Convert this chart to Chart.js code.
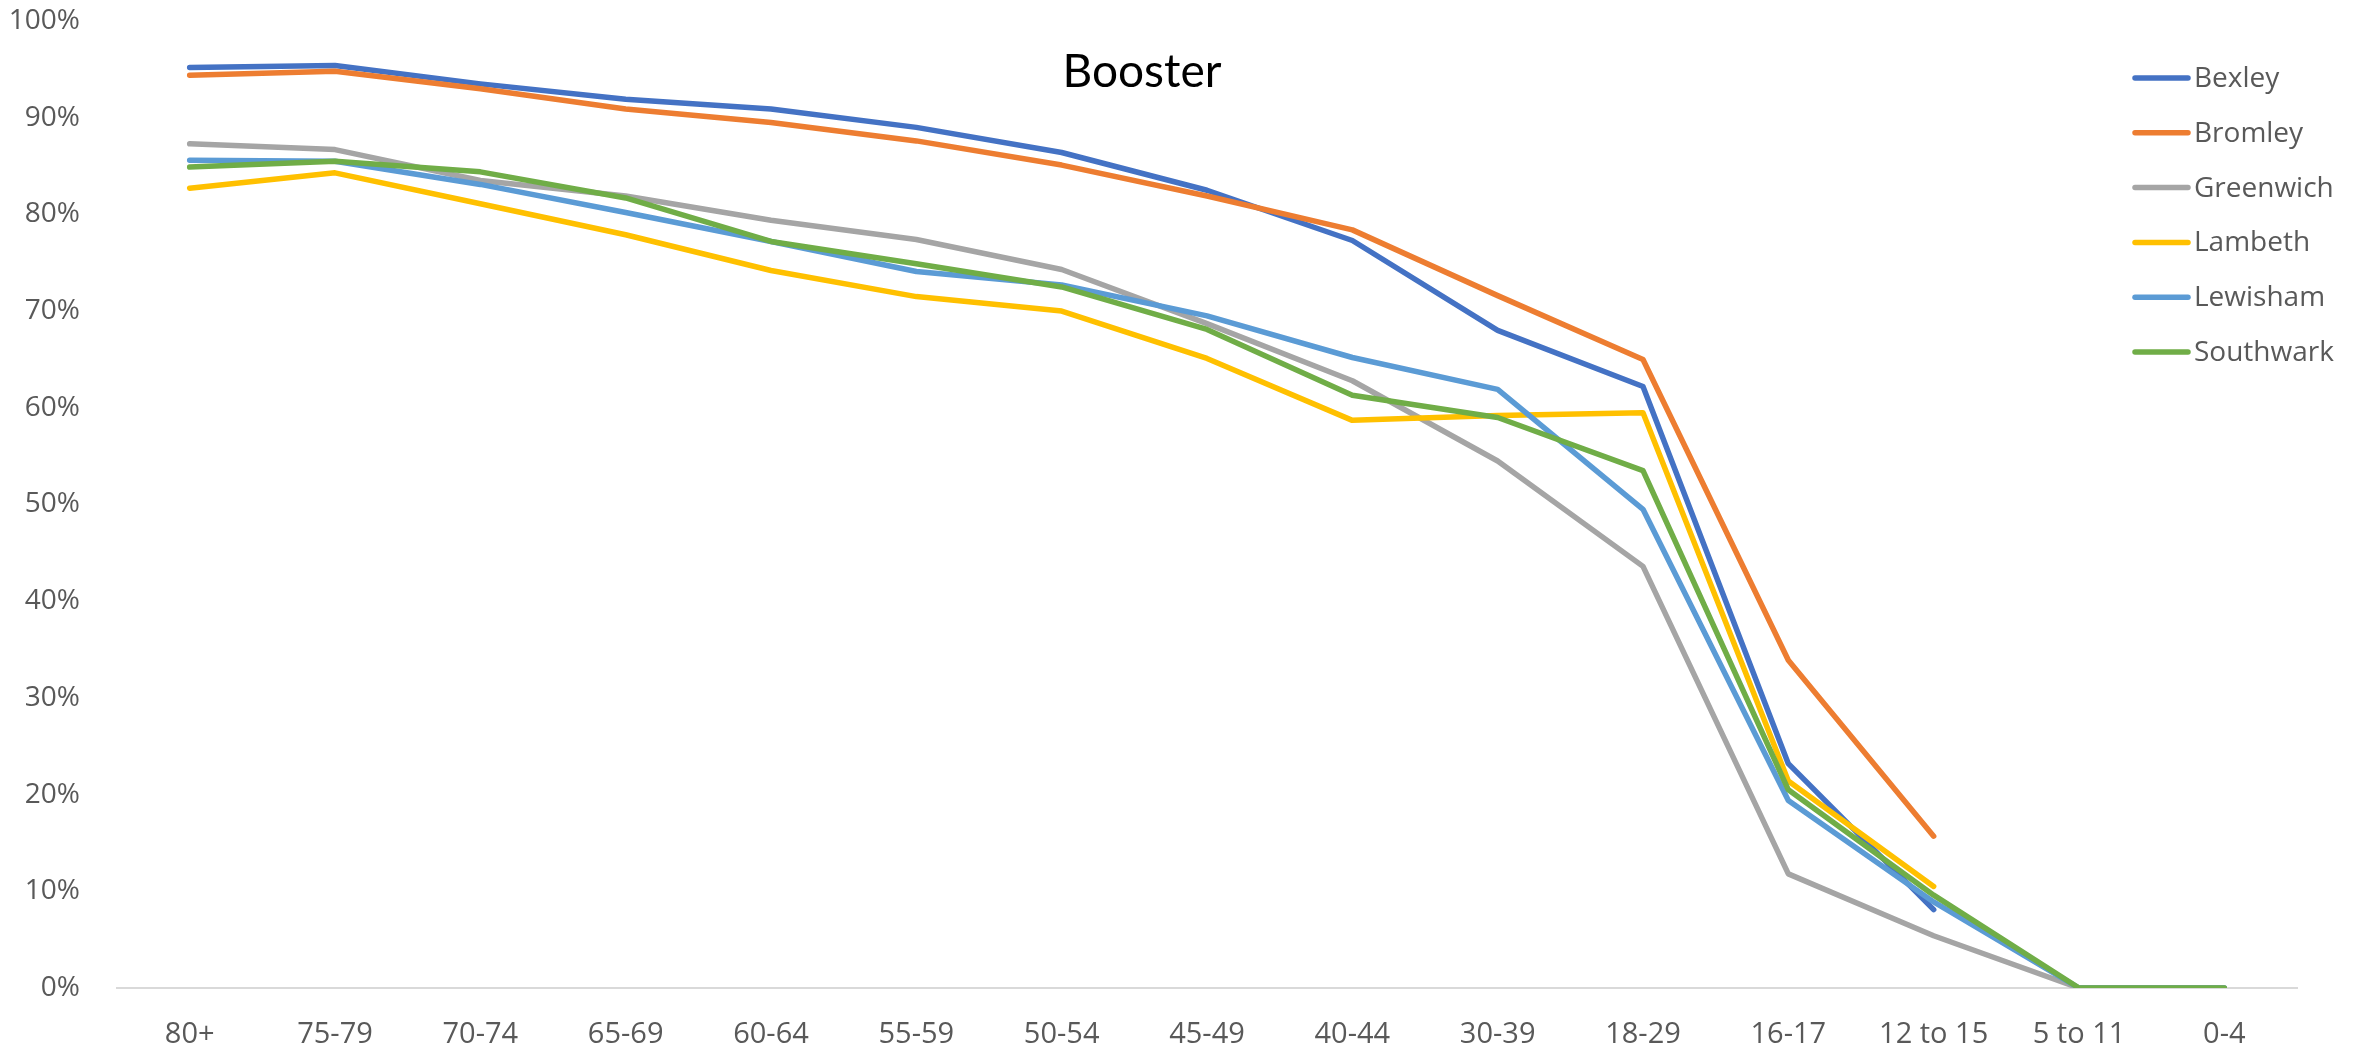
<!DOCTYPE html>
<html>
<head>
<meta charset="utf-8">
<title>Booster</title>
<script src="https://cdn.jsdelivr.net/npm/chart.js@4/dist/chart.umd.min.js"></script>
<style>
  html, body { margin: 0; padding: 0; background: #ffffff; }
  #wrap { width: 2361px; height: 1045px; }
</style>
</head>
<body>
<div id="wrap"><canvas id="chart" width="2361" height="1045"></canvas></div>
<script>
// Age bands, oldest first
const ageBands = ['80+', '75-79', '70-74', '65-69', '60-64', '55-59', '50-54', '45-49',
                  '40-44', '30-39', '18-29', '16-17', '12 to 15', '5 to 11', '0-4'];

// Booster uptake by borough (% of each age band)
const bexley    = [95.2, 95.4, 93.5, 91.9, 90.9, 89.0, 86.4, 82.5, 77.3, 68.0, 62.2, 23.2, 8.1, null, null];
const bromley   = [94.4, 94.8, 93.0, 90.9, 89.5, 87.6, 85.1, 81.9, 78.4, 71.6, 65.0, 33.9, 15.7, null, null];
const greenwich = [87.3, 86.7, 83.5, 81.9, 79.4, 77.4, 74.3, 68.7, 62.8, 54.5, 43.6, 11.8, 5.4, 0, 0];
const lambeth   = [82.7, 84.3, 81.1, 77.9, 74.2, 71.5, 70.0, 65.1, 58.7, 59.2, 59.5, 21.4, 10.5, null, null];
const lewisham  = [85.6, 85.5, 83.1, 80.2, 77.2, 74.1, 72.7, 69.5, 65.2, 61.9, 49.5, 19.4, 8.9, 0, 0];
const southwark = [84.9, 85.5, 84.4, 81.7, 77.2, 74.9, 72.5, 68.1, 61.3, 59.0, 53.5, 20.5, 9.6, 0, 0];

const boroughs = ['Bexley', 'Bromley', 'Greenwich', 'Lambeth', 'Lewisham', 'Southwark'];
const seriesValues = [bexley, bromley, greenwich, lambeth, lewisham, southwark];
const seriesColors = ['#4472C4', '#ED7D31', '#A5A5A5', '#FFC000', '#5B9BD5', '#70AD47'];

const yTickValues = [0, 10, 20, 30, 40, 50, 60, 70, 80, 90, 100];
const chartTitle = 'Booster';

const labelColor = '#595959';
const labelFont = '"Open Sans", "Noto Sans", sans-serif';

// Later series sit on top of earlier ones
const datasets = boroughs.map((name, i) => ({
  label: name,
  data: seriesValues[i],
  borderColor: seriesColors[i],
  backgroundColor: seriesColors[i],
  borderWidth: 5.5,
  borderCapStyle: 'round',
  borderJoinStyle: 'round',
  pointRadius: 0,
  pointHoverRadius: 0,
  tension: 0,
  fill: false,
  spanGaps: false,
  order: boroughs.length - i
}));

// Title drawn over the plot area
const titlePlugin = {
  id: 'overlayTitle',
  afterDraw(chart) {
    const ctx = chart.ctx;
    ctx.save();
    ctx.font = '46px Lato, "Open Sans", sans-serif';
    ctx.fillStyle = '#000000';
    ctx.textAlign = 'center';
    ctx.textBaseline = 'alphabetic';
    ctx.fillText(chartTitle, 1142, 87);
    ctx.restore();
  }
};

// Vertical legend in the top-right corner
const legendPlugin = {
  id: 'sideLegend',
  afterDraw(chart) {
    const ctx = chart.ctx;
    ctx.save();
    ctx.font = '28px ' + labelFont;
    ctx.textBaseline = 'middle';
    ctx.textAlign = 'left';
    chart.data.datasets.forEach((ds, i) => {
      const y = 78 + i * 54.8;
      ctx.strokeStyle = ds.borderColor;
      ctx.lineWidth = 5.5;
      ctx.lineCap = 'round';
      ctx.beginPath();
      ctx.moveTo(2135, y);
      ctx.lineTo(2188, y);
      ctx.stroke();
      ctx.fillStyle = labelColor;
      ctx.fillText(ds.label, 2194, y + 1);
    });
    ctx.restore();
  }
};

new Chart(document.getElementById('chart'), {
  type: 'line',
  data: { labels: ageBands, datasets },
  options: {
    responsive: false,
    animation: false,
    devicePixelRatio: 1,
    layout: { padding: { top: 21, right: 64, left: 0, bottom: 0 } },
    plugins: {
      legend: { display: false },
      title: { display: false },
      tooltip: { enabled: false }
    },
    scales: {
      x: {
        type: 'category',
        offset: true,
        grid: { display: false, drawTicks: false },
        border: { display: true, color: '#D9D9D9', width: 2 },
        ticks: {
          color: labelColor,
          font: { family: labelFont, size: 29 },
          padding: 29,
          maxRotation: 0,
          autoSkip: false
        },
        afterFit(scale) { scale.height = 57; }
      },
      y: {
        min: 0,
        max: 100,
        grid: { display: false, drawTicks: false },
        border: { display: false },
        afterBuildTicks(scale) {
          scale.ticks = yTickValues.map(v => ({ value: v }));
        },
        ticks: {
          color: labelColor,
          font: { family: labelFont, size: 28 },
          padding: 37,
          callback: v => v + '%'
        },
        afterFit(scale) {
          scale.width = 117;
          scale.paddingTop = 0;
          scale.paddingBottom = 0;
        }
      }
    }
  },
  plugins: [titlePlugin, legendPlugin]
});
</script>
</body>
</html>
